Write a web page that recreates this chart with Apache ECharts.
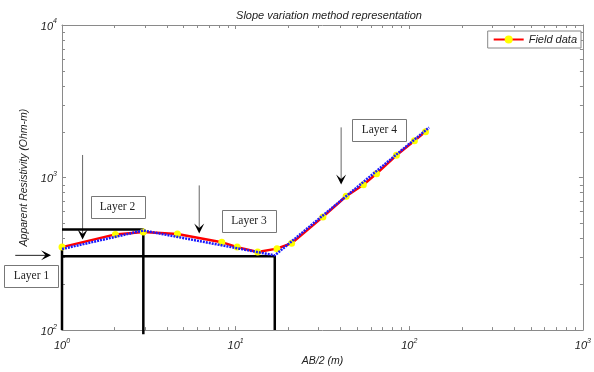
<!DOCTYPE html>
<html>
<head>
<meta charset="utf-8">
<script src="https://cdn.jsdelivr.net/npm/echarts@6/dist/echarts.min.js"></script>
<style>
  html, body { margin: 0; padding: 0; background: #fff; }
  #chart { width: 594px; height: 372px; }
</style>
</head>
<body>
<div id="chart"></div>
<script>
// field data (AB/2 in m, apparent resistivity in Ohm-m)
const fieldX = [1.0, 2.03, 2.94, 4.62, 8.32, 10.2, 13.4, 17.3, 21, 31.8, 43.3, 54.4, 64.8, 84.3, 107, 124]
const fieldY = [350, 424, 440, 427, 377, 350, 325, 342, 371, 552, 754, 897, 1061, 1400, 1741, 2000]

// slope model (blue dotted)
const modelX = [1.0, 2.94, 16.8, 130]
const modelY = [340, 450, 309, 2130]

// layer boundary lines
const layerLines = [
  [[1, 457], [2.94, 457], [2.94, 94]],
  [[1, 305], [16.8, 305], [16.8, 100]],
  [[1, 345], [1, 100]],
]

// annotations: label, box top-left, arrow x, arrow top, arrow tip (data coords)
const layerNames = ['Layer 1', 'Layer 2', 'Layer 3', 'Layer 4']
const boxAnchors = [[0.466, 267], [1.46, 754], [8.35, 612], [47, 2404]]
const arrows = [
  { from: [0.538, 309], to: [0.865, 309] },
  { from: [1.314, 1406], to: [1.314, 393] },
  { from: [6.17, 888], to: [6.17, 429] },
  { from: [40.5, 2133], to: [40.5, 901] },
]

const xMajor = [1, 10, 100, 1000]
const yMajor = [100, 1000, 10000]

const AXIS_COLOR = '#8a8a8a'
const zip = (xs, ys) => xs.map((x, i) => [x, ys[i]])

const powLabel = (v) => '{b|10}{s|' + Math.round(Math.log10(v)) + '}'

const labelRich = {
  b: { fontSize: 11, fontStyle: 'italic', fontFamily: 'Liberation Sans', color: '#222', verticalAlign: 'bottom', lineHeight: 14 },
  s: { fontSize: 7, fontStyle: 'italic', fontFamily: 'Liberation Sans', color: '#222', verticalAlign: 'top', lineHeight: 8 },
}

const baseAxis = {
  type: 'log',
  logBase: 10,
  axisLine: { show: true, onZero: false, lineStyle: { color: AXIS_COLOR, width: 1 } },
  axisTick: { show: true, inside: true, length: 4, lineStyle: { color: AXIS_COLOR } },
  splitLine: { show: false },
}

const chart = echarts.init(document.getElementById('chart'), null, { renderer: 'canvas' })

const option = {
  animation: false,
  backgroundColor: '#fff',
  title: {
    text: 'Slope variation method representation',
    left: 324,
    textAlign: 'center',
    top: 5,
    textStyle: { fontSize: 11, fontWeight: 'normal', fontStyle: 'italic', fontFamily: 'Liberation Sans', color: '#222' },
  },
  legend: {
    data: ['Field data'],
    right: 13,
    top: 31,
    itemWidth: 30,
    itemHeight: 10,
    itemGap: 4,
    padding: [3, 4, 3, 5],
    borderColor: '#888',
    borderWidth: 1,
    backgroundColor: '#fff',
    textStyle: { fontSize: 11, fontStyle: 'italic', fontFamily: 'Liberation Sans', color: '#222' },
  },
  grid: { left: 62, right: 8, top: 25, bottom: 37, containLabel: false },
  xAxis: [
    {
      ...baseAxis,
      position: 'bottom',
      min: 1,
      max: 1000,
      name: 'AB/2 (m)',
      nameLocation: 'middle',
      nameGap: 22,
      nameTextStyle: { fontSize: 10.5, fontStyle: 'italic', fontFamily: 'Liberation Sans', color: '#222' },
      axisLabel: { formatter: powLabel, rich: labelRich, margin: 7 },
    },
    {
      ...baseAxis,
      position: 'top',
      min: 1,
      max: 1000,
      axisLabel: { show: false },
    },
  ],
  yAxis: [
    {
      ...baseAxis,
      position: 'left',
      min: 100,
      max: 10000,
      name: 'Apparent Resistivity (Ohm-m)',
      nameLocation: 'middle',
      nameGap: 22,
      nameTextStyle: { fontSize: 10.5, fontStyle: 'italic', fontFamily: 'Liberation Sans', color: '#222' },
      axisLabel: { formatter: powLabel, rich: labelRich, margin: 5 },
    },
    {
      ...baseAxis,
      position: 'right',
      min: 100,
      max: 10000,
      axisLabel: { show: false },
    },
  ],
  series: [
    ...layerLines.map((pts) => ({
      type: 'line',
      data: pts,
      symbol: 'none',
      clip: false,
      silent: true,
      lineStyle: { color: '#000', width: 2.5 },
      z: 1,
    })),
    {
      name: 'Field data',
      type: 'line',
      data: zip(fieldX, fieldY),
      symbol: 'circle',
      symbolSize: 7,
      itemStyle: { color: '#ffff00', borderWidth: 0 },
      lineStyle: { color: '#ff0000', width: 2.5 },
      z: 3,
    },
    {
      name: 'Model',
      type: 'line',
      data: zip(modelX, modelY),
      symbol: 'none',
      lineStyle: { color: '#1a1aff', width: 2.5, type: [2, 1] },
      z: 4,
    },
  ],
}

chart.setOption(option)

function minorValues(majors) {
  const out = []
  for (let i = 0; i < majors.length - 1; i++) {
    for (let m = 2; m <= 9; m++) out.push(majors[i] * m)
  }
  return out
}

function buildGraphics() {
  const toPx = (pt) => chart.convertToPixel({ gridIndex: 0 }, pt)
  const [left, bottom] = toPx([1, 100])
  const [right, top] = toPx([1000, 10000])
  const els = []
  const tick = (x1, y1, x2, y2) => els.push({
    type: 'line',
    shape: { x1, y1, x2, y2 },
    style: { stroke: AXIS_COLOR, lineWidth: 1 },
    silent: true,
  })

  minorValues(xMajor).forEach((v) => {
    const px = Math.round(toPx([v, 100])[0]) + 0.5
    tick(px, bottom, px, bottom - 3)
    tick(px, top, px, top + 3)
  })
  minorValues(yMajor).forEach((v) => {
    const py = Math.round(toPx([1, v])[1]) + 0.5
    tick(left, py, left + 3, py)
    tick(right, py, right - 3, py)
  })

  // arrows
  arrows.forEach((a, i) => {
    const p1 = toPx(a.from)
    const p2 = toPx(a.to)
    const dx = p2[0] - p1[0]
    const dy = p2[1] - p1[1]
    const len = Math.hypot(dx, dy)
    const ux = dx / len
    const uy = dy / len
    const nx = -uy
    const ny = ux
    const hl = 10
    const hw = 5
    els.push({
      type: 'line',
      shape: { x1: p1[0], y1: p1[1], x2: p2[0] - ux * 3, y2: p2[1] - uy * 3 },
      style: { stroke: i === 0 ? '#222' : '#666', lineWidth: 1 },
      silent: true,
    })
    els.push({
      type: 'polygon',
      shape: {
        points: [
          [p2[0], p2[1]],
          [p2[0] - ux * hl + nx * hw, p2[1] - uy * hl + ny * hw],
          [p2[0] - ux * hl * 0.55, p2[1] - uy * hl * 0.55],
          [p2[0] - ux * hl - nx * hw, p2[1] - uy * hl - ny * hw],
        ],
      },
      style: { fill: '#000' },
      silent: true,
    })
  })

  // layer boxes
  boxAnchors.forEach((b, i) => {
    const p = toPx(b)
    els.push({
      type: 'rect',
      shape: { x: Math.round(p[0]) + 0.5, y: Math.round(p[1]) + 0.5, width: 54, height: 22 },
      style: { fill: '#fff', stroke: '#777', lineWidth: 1 },
      silent: true,
      z: 10,
    })
    els.push({
      type: 'text',
      x: p[0] + 27,
      y: p[1] + 11,
      style: {
        text: layerNames[i],
        fill: '#222',
        font: '11.5px "Liberation Serif", serif',
        align: 'center',
        verticalAlign: 'middle',
      },
      silent: true,
      z: 11,
    })
  })

  chart.setOption({ graphic: { elements: els } })
}

buildGraphics()
</script>
</body>
</html>
